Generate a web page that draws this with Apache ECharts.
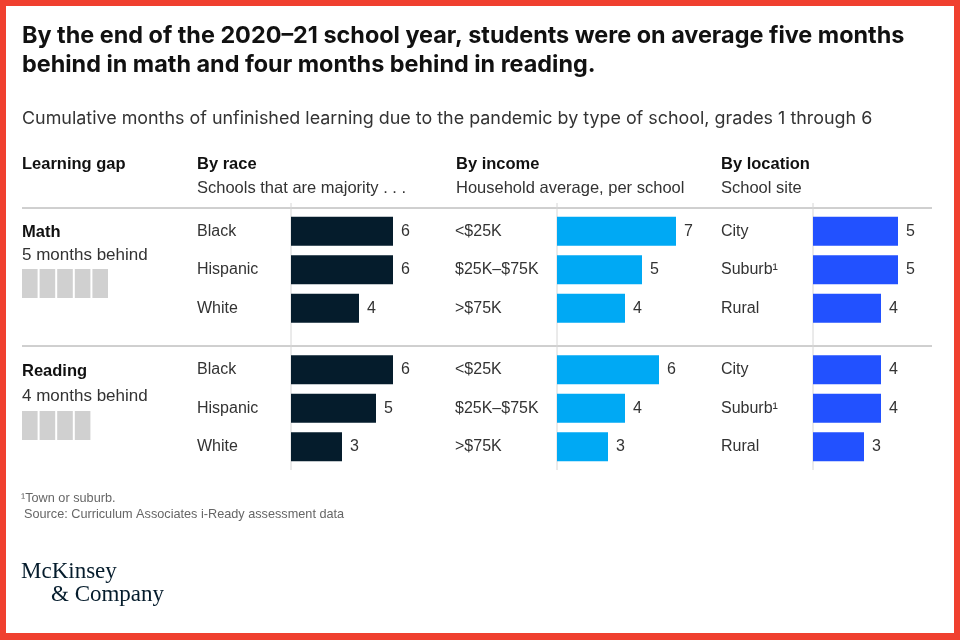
<!DOCTYPE html>
<html>
<head>
<meta charset="utf-8">
<script src="https://cdn.jsdelivr.net/npm/echarts@6/dist/echarts.min.js"></script>
<style>html,body{margin:0;padding:0;background:#fff}#c{width:960px;height:640px}</style>
</head>
<body>
<div id="c"></div>
<script>
// ---- data ----
const raceCats = ['Black', 'Hispanic', 'White'];
const incomeCats = ['<$25K', '$25K–$75K', '>$75K'];
const locationCats = ['City', 'Suburb¹', 'Rural'];
const mathRace = [6, 6, 4];
const mathIncome = [7, 5, 4];
const mathLocation = [5, 5, 4];
const readingRace = [6, 5, 3];
const readingIncome = [6, 4, 3];
const readingLocation = [4, 4, 3];
const gapSubjects = ['Math', 'Reading'];
const gapMonths = [5, 4];
const gapLabels = ['5 months behind', '4 months behind'];

const FONT = '"Liberation Sans", Arial, sans-serif';
const WIDE = 'Inter, "DejaVu Sans", sans-serif';
const colors = {race: '#051c2c', income: '#00a9f4', location: '#2251ff'};
const colLeft = [291, 557, 813];
const rowTop = [212, 350.5];
const unit = 17;
const xMax = 8;

const grids = [], xAxes = [], yAxes = [], series = [];
const colCats = [raceCats, incomeCats, locationCats];
const colKeys = ['race', 'income', 'location'];
const labelX = [197, 455, 721];
const values = [[mathRace, mathIncome, mathLocation], [readingRace, readingIncome, readingLocation]];

for (let r = 0; r < 2; r++) {
  for (let c = 0; c < 3; c++) {
    const gi = grids.length;
    grids.push({left: colLeft[c], top: rowTop[r], width: unit * xMax, height: 115.5});
    xAxes.push({type: 'value', gridIndex: gi, min: 0, max: xMax, show: false});
    yAxes.push({
      type: 'category', gridIndex: gi, data: colCats[c], inverse: true,
      axisLine: {show: false}, axisTick: {show: false},
      axisLabel: {align: 'left', margin: colLeft[c] - labelX[c], fontSize: 16, color: '#333', fontFamily: FONT}
    });
    series.push({
      type: 'bar', xAxisIndex: gi, yAxisIndex: gi, data: values[r][c], barWidth: 29,
      itemStyle: {color: colors[colKeys[c]]}, silent: true,
      label: {show: true, position: 'right', distance: 8, fontSize: 16, color: '#333', fontFamily: FONT}
    });
  }
}
// gray month boxes
const boxTop = [269, 411];
for (let r = 0; r < 2; r++) {
  const gi = grids.length;
  grids.push({left: 22, top: boxTop[r], width: 88, height: 29});
  xAxes.push({type: 'value', gridIndex: gi, min: 0, max: 5, show: false});
  yAxes.push({type: 'category', gridIndex: gi, data: [gapSubjects[r]], show: false});
  series.push({
    type: 'custom', xAxisIndex: gi, yAxisIndex: gi, silent: true,
    data: Array.from({length: gapMonths[r]}, (_, i) => [i, 0]),
    renderItem: function (params, api) {
      const p0 = api.coord([api.value(0), 0]);
      const p1 = api.coord([api.value(0) + 1, 0]);
      const h = api.size([0, 1])[1];
      return {type: 'rect', shape: {x: p0[0], y: p0[1] - h / 2, width: p1[0] - p0[0] - 2, height: h}, style: {fill: '#d0d0d0'}};
    }
  });
}

const T = (x, y, text, size, opts = {}) => ({
  type: 'text', left: x, top: y, silent: true,
  style: Object.assign({text: text, fontSize: size, fontFamily: FONT, fill: '#333', textVerticalAlign: 'top'}, opts)
});
const graphic = [
  {type: 'rect', left: 6, top: 6, shape: {width: 948, height: 627}, style: {fill: '#fff'}, silent: true, z: -10},
  {type: 'line', shape: {x1: 22, y1: 208, x2: 932, y2: 208}, style: {stroke: '#a0a0a0', lineWidth: 1}, silent: true},
  {type: 'line', shape: {x1: 22, y1: 346, x2: 932, y2: 346}, style: {stroke: '#a0a0a0', lineWidth: 1}, silent: true},
  {type: 'line', shape: {x1: 291, y1: 203, x2: 291, y2: 470}, style: {stroke: '#d6d6d6', lineWidth: 1}, silent: true},
  {type: 'line', shape: {x1: 557, y1: 203, x2: 557, y2: 470}, style: {stroke: '#d6d6d6', lineWidth: 1}, silent: true},
  {type: 'line', shape: {x1: 813, y1: 203, x2: 813, y2: 470}, style: {stroke: '#d6d6d6', lineWidth: 1}, silent: true},
];
const B = {fontWeight: 'bold', fill: '#111'};
const texts = [
  {x: 22, y: 24, t: 'By the end of the 2020–21 school year, students were on average five months', s: 23.4, o: Object.assign({fontFamily: WIDE}, B)},
  {x: 22, y: 53, t: 'behind in math and four months behind in reading.', s: 23.4, o: Object.assign({fontFamily: WIDE}, B)},
  {x: 22, y: 110, t: 'Cumulative months of unfinished learning due to the pandemic by type of school, grades 1 through 6', s: 17.9, o: {fontFamily: WIDE}},
  {x: 22, y: 156, t: 'Learning gap', s: 16.5, o: B},
  {x: 197, y: 156, t: 'By race', s: 16.5, o: B},
  {x: 456, y: 156, t: 'By income', s: 16.5, o: B},
  {x: 721, y: 156, t: 'By location', s: 16.5, o: B},
  {x: 197, y: 180, t: 'Schools that are majority . . .', s: 16.5, o: {}},
  {x: 456, y: 180, t: 'Household average, per school', s: 16.5, o: {}},
  {x: 721, y: 180, t: 'School site', s: 16.5, o: {}},
  {x: 22, y: 224, t: gapSubjects[0], s: 16.5, o: B},
  {x: 22, y: 247, t: gapLabels[0], s: 17, o: {}},
  {x: 22, y: 363, t: gapSubjects[1], s: 16.5, o: B},
  {x: 22, y: 388, t: gapLabels[1], s: 17, o: {}},
  {x: 21, y: 492, t: '¹Town or suburb.', s: 12.7, o: {fill: '#666'}},
  {x: 24, y: 508, t: 'Source: Curriculum Associates i-Ready assessment data', s: 12.7, o: {fill: '#666'}},
  {x: 21, y: 560, t: 'McKinsey', s: 23, o: {fill: '#051c2c', fontFamily: '"Liberation Serif", serif'}},
  {x: 51, y: 583, t: '& Company', s: 23, o: {fill: '#051c2c', fontFamily: '"Liberation Serif", serif'}},
];
texts.forEach(d => graphic.push(T(d.x, d.y, d.t, d.s, d.o)));

const chart = echarts.init(document.getElementById('c'), null, {renderer: 'canvas'});
chart.setOption({
  backgroundColor: '#f0402f',
  animation: false,
  grid: grids, xAxis: xAxes, yAxis: yAxes, series: series,
  graphic: graphic
});
</script>
</body>
</html>
